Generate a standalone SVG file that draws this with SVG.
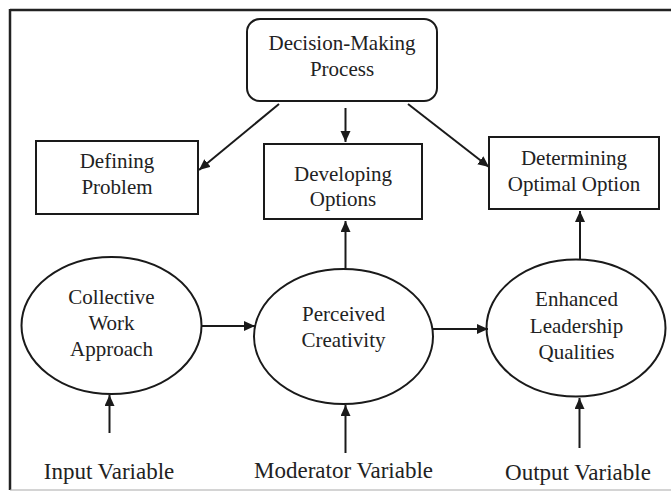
<svg xmlns="http://www.w3.org/2000/svg" width="671" height="493" viewBox="0 0 671 493">
<style>
.shape{fill:#fff;stroke:#1a1a1a;stroke-width:2}
.t{font-family:"Liberation Serif","Times New Roman",serif;font-size:21px;fill:#222;text-anchor:middle}
.lbl{font-family:"Liberation Serif","Times New Roman",serif;font-size:23px;fill:#222;text-anchor:middle}
.conn line{stroke:#1a1a1a;stroke-width:2;marker-end:url(#ah)}
</style>
<defs>
<marker id="ah" markerUnits="userSpaceOnUse" markerWidth="12" markerHeight="12" refX="11" refY="5" orient="auto">
<path d="M0,0 L11,5 L0,10 Z" fill="#1a1a1a"/>
</marker>
</defs>
<rect width="671" height="493" fill="#fff"/>
<g id="frame">
<line x1="10" y1="10" x2="671" y2="10" stroke="#222" stroke-width="2.5"/>
<line x1="10" y1="9" x2="10" y2="490" stroke="#222" stroke-width="2.5"/>
<line x1="10" y1="490" x2="671" y2="490" stroke="#aaa" stroke-width="1.2"/>
</g>
<g id="decision">
<rect class="shape" x="247" y="19" width="190" height="82" rx="13"/>
<text class="t" x="342" y="50">Decision-Making</text>
<text class="t" x="342" y="76">Process</text>
</g>
<g id="defining">
<rect class="shape" x="36" y="141" width="162" height="73"/>
<text class="t" x="117" y="168">Defining</text>
<text class="t" x="117" y="194">Problem</text>
</g>
<g id="developing">
<rect class="shape" x="264" y="144" width="158" height="75"/>
<text class="t" x="343" y="181">Developing</text>
<text class="t" x="343" y="206">Options</text>
</g>
<g id="determining">
<rect class="shape" x="489" y="137" width="170" height="72"/>
<text class="t" x="574" y="165">Determining</text>
<text class="t" x="574" y="191">Optimal Option</text>
</g>
<g id="collective">
<ellipse class="shape" cx="111.5" cy="325.5" rx="90" ry="68.5"/>
<text class="t" x="111.5" y="304">Collective</text>
<text class="t" x="111.5" y="330">Work</text>
<text class="t" x="111.5" y="356">Approach</text>
</g>
<g id="perceived">
<ellipse class="shape" cx="343.5" cy="336.5" rx="89.5" ry="67.5"/>
<text class="t" x="343.5" y="321">Perceived</text>
<text class="t" x="343.5" y="347">Creativity</text>
</g>
<g id="enhanced">
<ellipse class="shape" cx="576" cy="328" rx="89.5" ry="68.5"/>
<text class="t" x="576.5" y="306">Enhanced</text>
<text class="t" x="576.5" y="333">Leadership</text>
<text class="t" x="576.5" y="359">Qualities</text>
</g>
<g id="input-label"><text class="lbl" x="109" y="479">Input Variable</text></g>
<g id="moderator-label"><text class="lbl" x="343.5" y="478">Moderator Variable</text></g>
<g id="output-label"><text class="lbl" x="578" y="480">Output Variable</text></g>
<g class="conn" id="connectors">
<line x1="279" y1="104" x2="199" y2="170"/>
<line x1="345.5" y1="108" x2="345.5" y2="142"/>
<line x1="408" y1="104" x2="489" y2="167"/>
<line x1="345.5" y1="269" x2="345.5" y2="221"/>
<line x1="580" y1="259.5" x2="580" y2="211"/>
<line x1="201.5" y1="326" x2="255" y2="326"/>
<line x1="433" y1="329" x2="488" y2="329"/>
<line x1="109.5" y1="433" x2="109.5" y2="395"/>
<line x1="345.5" y1="453" x2="345.5" y2="405"/>
<line x1="579.5" y1="448" x2="579.5" y2="398"/>
</g>
</svg>
